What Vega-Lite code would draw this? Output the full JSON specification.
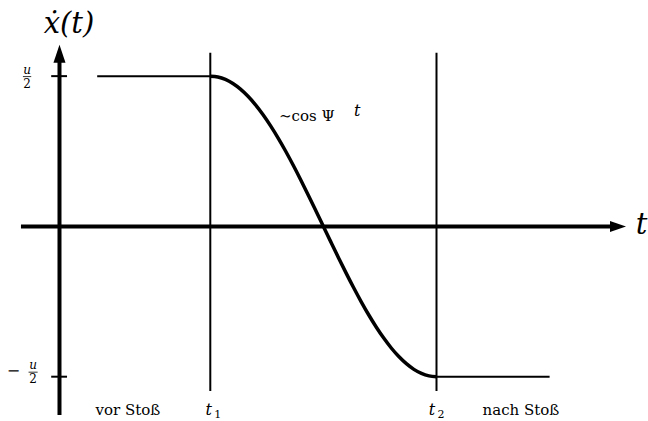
{
  "$schema": "https://vega.github.io/schema/vega-lite/v6.json",
  "width": 648,
  "height": 421,
  "padding": 0,
  "autosize": {"type": "fit", "contains": "padding"},
  "background": "white",
  "config": {"view": {"stroke": null}, "text": {"font": "DejaVu Serif"}},
  "datasets": {
    "curve": [
      {"t": 2.0, "v": 1.0}, {"t": 2.1, "v": 0.9945}, {"t": 2.2, "v": 0.9781}, {"t": 2.3, "v": 0.9511},
      {"t": 2.4, "v": 0.9135}, {"t": 2.5, "v": 0.866}, {"t": 2.6, "v": 0.809}, {"t": 2.7, "v": 0.7431},
      {"t": 2.8, "v": 0.6691}, {"t": 2.9, "v": 0.5878}, {"t": 3.0, "v": 0.5}, {"t": 3.1, "v": 0.4067},
      {"t": 3.2, "v": 0.309}, {"t": 3.3, "v": 0.2079}, {"t": 3.4, "v": 0.1045}, {"t": 3.5, "v": 0.0},
      {"t": 3.6, "v": -0.1045}, {"t": 3.7, "v": -0.2079}, {"t": 3.8, "v": -0.309}, {"t": 3.9, "v": -0.4067},
      {"t": 4.0, "v": -0.5}, {"t": 4.1, "v": -0.5878}, {"t": 4.2, "v": -0.6691}, {"t": 4.3, "v": -0.7431},
      {"t": 4.4, "v": -0.809}, {"t": 4.5, "v": -0.866}, {"t": 4.6, "v": -0.9135}, {"t": 4.7, "v": -0.9511},
      {"t": 4.8, "v": -0.9781}, {"t": 4.9, "v": -0.9945}, {"t": 5.0, "v": -1.0}
    ],
    "thin": [
      {"t": 0.5, "v": 1, "t2": 2, "v2": 1},
      {"t": 5, "v": -1, "t2": 6.5, "v2": -1},
      {"t": 2, "v": 1.156, "t2": 2, "v2": -1.096},
      {"t": 5, "v": 1.156, "t2": 5, "v2": -1.096},
      {"t": -0.11, "v": 1, "t2": 0.1, "v2": 1},
      {"t": -0.11, "v": -1, "t2": 0.1, "v2": -1}
    ],
    "axes": [
      {"t": -0.511, "v": 0, "t2": 7.33, "v2": 0},
      {"t": 0, "v": -1.255, "t2": 0, "v2": 1.1}
    ],
    "fracbars": [
      {"t": -0.485, "v": 0.997, "t2": -0.375, "v2": 0.997},
      {"t": -0.41, "v": -0.97, "t2": -0.29, "v2": -0.97}
    ],
    "bigItalic": [
      {"t": 0.126, "v": 1.348, "label": "ẋ(t)"},
      {"t": 7.72, "v": 0.01, "label": "t"}
    ],
    "smallItalic": [
      {"t": -0.431, "v": 1.04, "label": "u"},
      {"t": -0.351, "v": -0.924, "label": "u"}
    ],
    "smallRoman": [
      {"t": -0.431, "v": 0.95, "label": "2"},
      {"t": -0.351, "v": -1.017, "label": "2"}
    ],
    "subs": [
      {"t": 2.1, "v": -1.275, "label": "1"},
      {"t": 5.06, "v": -1.275, "label": "2"}
    ],
    "midRoman": [
      {"t": 0.908, "v": -1.255, "label": "vor Stoß"},
      {"t": 6.12, "v": -1.255, "label": "nach Stoß"}
    ],
    "midItalic": [
      {"t": 1.98, "v": -1.255, "label": "t"},
      {"t": 4.94, "v": -1.255, "label": "t"},
      {"t": 3.95, "v": 0.732, "label": "t"}
    ]
  },
  "layer": [
    {
      "data": {"name": "thin"},
      "mark": {"type": "rule", "stroke": "black", "strokeWidth": 2},
      "encoding": {
        "x": {"field": "t", "type": "quantitative", "scale": {"domain": [-0.789, 7.805], "nice": false, "zero": false}, "axis": null},
        "y": {"field": "v", "type": "quantitative", "scale": {"domain": [-1.2815, 1.5066], "nice": false, "zero": false}, "axis": null},
        "x2": {"field": "t2"},
        "y2": {"field": "v2"}
      }
    },
    {
      "data": {"name": "curve"},
      "mark": {"type": "line", "stroke": "black", "strokeWidth": 3.5, "interpolate": "monotone"},
      "encoding": {
        "x": {"field": "t", "type": "quantitative"},
        "y": {"field": "v", "type": "quantitative"}
      }
    },
    {
      "data": {"name": "axes"},
      "mark": {"type": "rule", "stroke": "black", "strokeWidth": 4},
      "encoding": {
        "x": {"field": "t", "type": "quantitative"},
        "y": {"field": "v", "type": "quantitative"},
        "x2": {"field": "t2"},
        "y2": {"field": "v2"}
      }
    },
    {
      "data": {"values": [{"t": 0, "v": 1.149}]},
      "mark": {"type": "point", "shape": "M-0.67,1L0,-1L0.67,1Z", "size": 324, "filled": true, "color": "black", "opacity": 1},
      "encoding": {
        "x": {"field": "t", "type": "quantitative"},
        "y": {"field": "v", "type": "quantitative"}
      }
    },
    {
      "data": {"values": [{"t": 7.407, "v": 0}]},
      "mark": {"type": "point", "shape": "M-1,-0.69L1,0L-1,0.69Z", "size": 256, "filled": true, "color": "black", "opacity": 1},
      "encoding": {
        "x": {"field": "t", "type": "quantitative"},
        "y": {"field": "v", "type": "quantitative"}
      }
    },
    {
      "data": {"name": "fracbars"},
      "mark": {"type": "rule", "stroke": "black", "strokeWidth": 0.8},
      "encoding": {
        "x": {"field": "t", "type": "quantitative"},
        "y": {"field": "v", "type": "quantitative"},
        "x2": {"field": "t2"},
        "y2": {"field": "v2"}
      }
    },
    {
      "data": {"name": "bigItalic"},
      "mark": {"type": "text", "fontStyle": "italic", "fontSize": 29, "align": "center", "baseline": "middle", "color": "black"},
      "encoding": {
        "x": {"field": "t", "type": "quantitative"},
        "y": {"field": "v", "type": "quantitative"},
        "text": {"field": "label"}
      }
    },
    {
      "data": {"name": "smallItalic"},
      "mark": {"type": "text", "fontStyle": "italic", "fontSize": 12, "align": "center", "baseline": "middle", "color": "black"},
      "encoding": {
        "x": {"field": "t", "type": "quantitative"},
        "y": {"field": "v", "type": "quantitative"},
        "text": {"field": "label"}
      }
    },
    {
      "data": {"name": "smallRoman"},
      "mark": {"type": "text", "fontSize": 12, "align": "center", "baseline": "middle", "color": "black"},
      "encoding": {
        "x": {"field": "t", "type": "quantitative"},
        "y": {"field": "v", "type": "quantitative"},
        "text": {"field": "label"}
      }
    },
    {
      "data": {"values": [{"t": -0.61, "v": -0.964, "label": "−"}]},
      "mark": {"type": "text", "fontSize": 16, "align": "center", "baseline": "middle", "color": "black"},
      "encoding": {
        "x": {"field": "t", "type": "quantitative"},
        "y": {"field": "v", "type": "quantitative"},
        "text": {"field": "label"}
      }
    },
    {
      "data": {"name": "subs"},
      "mark": {"type": "text", "fontSize": 11, "align": "center", "baseline": "alphabetic", "color": "black"},
      "encoding": {
        "x": {"field": "t", "type": "quantitative"},
        "y": {"field": "v", "type": "quantitative"},
        "text": {"field": "label"}
      }
    },
    {
      "data": {"name": "midRoman"},
      "mark": {"type": "text", "fontSize": 15, "align": "center", "baseline": "alphabetic", "color": "black"},
      "encoding": {
        "x": {"field": "t", "type": "quantitative"},
        "y": {"field": "v", "type": "quantitative"},
        "text": {"field": "label"}
      }
    },
    {
      "data": {"values": [{"t": 2.91, "v": 0.732, "label": "∼cos Ψ"}]},
      "mark": {"type": "text", "fontSize": 15, "align": "left", "baseline": "middle", "color": "black"},
      "encoding": {
        "x": {"field": "t", "type": "quantitative"},
        "y": {"field": "v", "type": "quantitative"},
        "text": {"field": "label"}
      }
    },
    {
      "data": {"name": "midItalic"},
      "mark": {"type": "text", "fontStyle": "italic", "fontSize": 16, "align": "center", "baseline": "alphabetic", "color": "black"},
      "encoding": {
        "x": {"field": "t", "type": "quantitative"},
        "y": {"field": "v", "type": "quantitative"},
        "text": {"field": "label"}
      }
    }
  ]
}
